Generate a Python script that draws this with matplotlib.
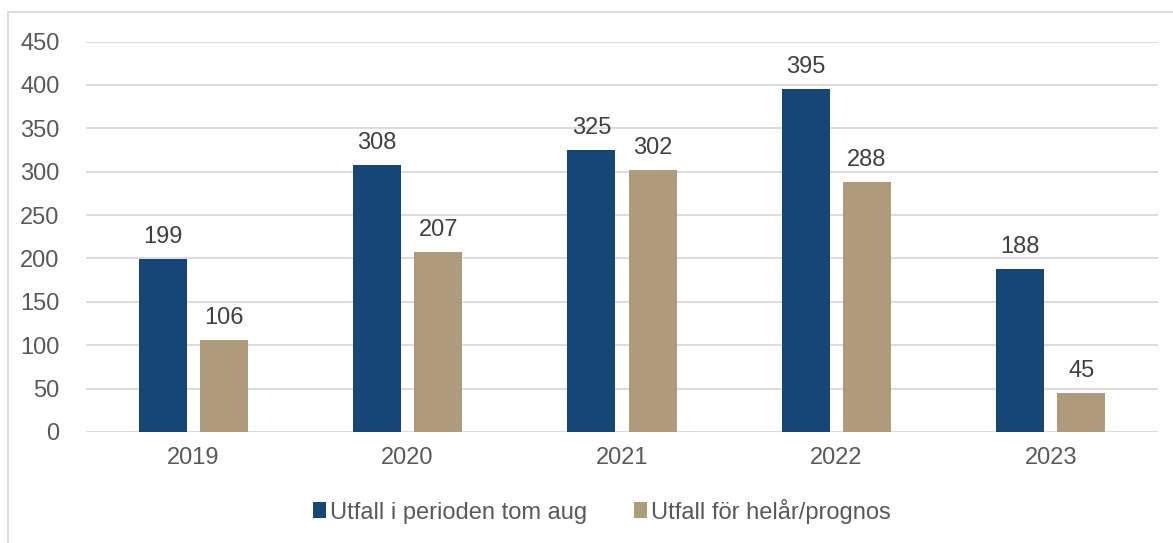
import matplotlib
matplotlib.use("Agg")
import matplotlib.pyplot as plt
import numpy as np
from matplotlib.patches import Rectangle

years = ["2019", "2020", "2021", "2022", "2023"]
utfall_aug = [199, 308, 325, 395, 188]
utfall_helar = [106, 207, 302, 288, 45]
series_names = ["Utfall i perioden tom aug", "Utfall för helår/prognos"]
yticks = [0, 50, 100, 150, 200, 250, 300, 350, 400, 450]

plt.rcParams['font.family'] = ['Liberation Sans', 'DejaVu Sans']

W, H = 1173, 543
fig = plt.figure(figsize=(W/100, H/100), dpi=100)
ax = fig.add_axes([86/W, 1-432/H, (1158-86)/W, (432-41.5)/H])

blue = "#174676"
tan = "#B09A7C"
fs = 17
x = np.arange(len(years))
bw = 0.224
off = 0.143
b1 = ax.bar(x - off, utfall_aug, bw, color=blue, label=series_names[0], zorder=3)
b2 = ax.bar(x + off, utfall_helar, bw, color=tan, label=series_names[1], zorder=3)

for bars, vals in ((b1, utfall_aug), (b2, utfall_helar)):
    for r, v in zip(bars, vals):
        ax.annotate(str(v), (r.get_x() + r.get_width()/2, v), xytext=(0, 8),
                    textcoords="offset points", ha="center", va="bottom",
                    fontsize=fs, color="#404040")

ax.set_xlim(-0.5, len(years) - 0.5)
ax.set_ylim(0, 450)
ax.set_yticks(yticks)
ax.set_xticks(x)
ax.set_xticklabels(years)
ax.yaxis.grid(True, color="#d9d9d9", linewidth=1.3, zorder=0)
ax.set_axisbelow(True)
for s in ax.spines.values():
    s.set_visible(False)
ax.tick_params(axis='both', length=0, labelsize=fs, labelcolor="#595959")
ax.tick_params(axis='y', pad=19)
ax.tick_params(axis='x', pad=11)

leg = fig.legend(handles=[b1, b2], loc="center", bbox_to_anchor=(602/W, 1-511/H),
                 ncol=2, frameon=False, fontsize=fs, handlelength=0.55, handleheight=0.65,
                 handletextpad=0.15, columnspacing=2.0)
for t in leg.get_texts():
    t.set_color("#595959")

fig.patches.append(Rectangle((8/W, -0.1), 2, 1.1 - 12/H, transform=fig.transFigure,
                             fill=False, edgecolor="#d9d9d9", linewidth=1.3))

fig.savefig("out.png", dpi=100)
